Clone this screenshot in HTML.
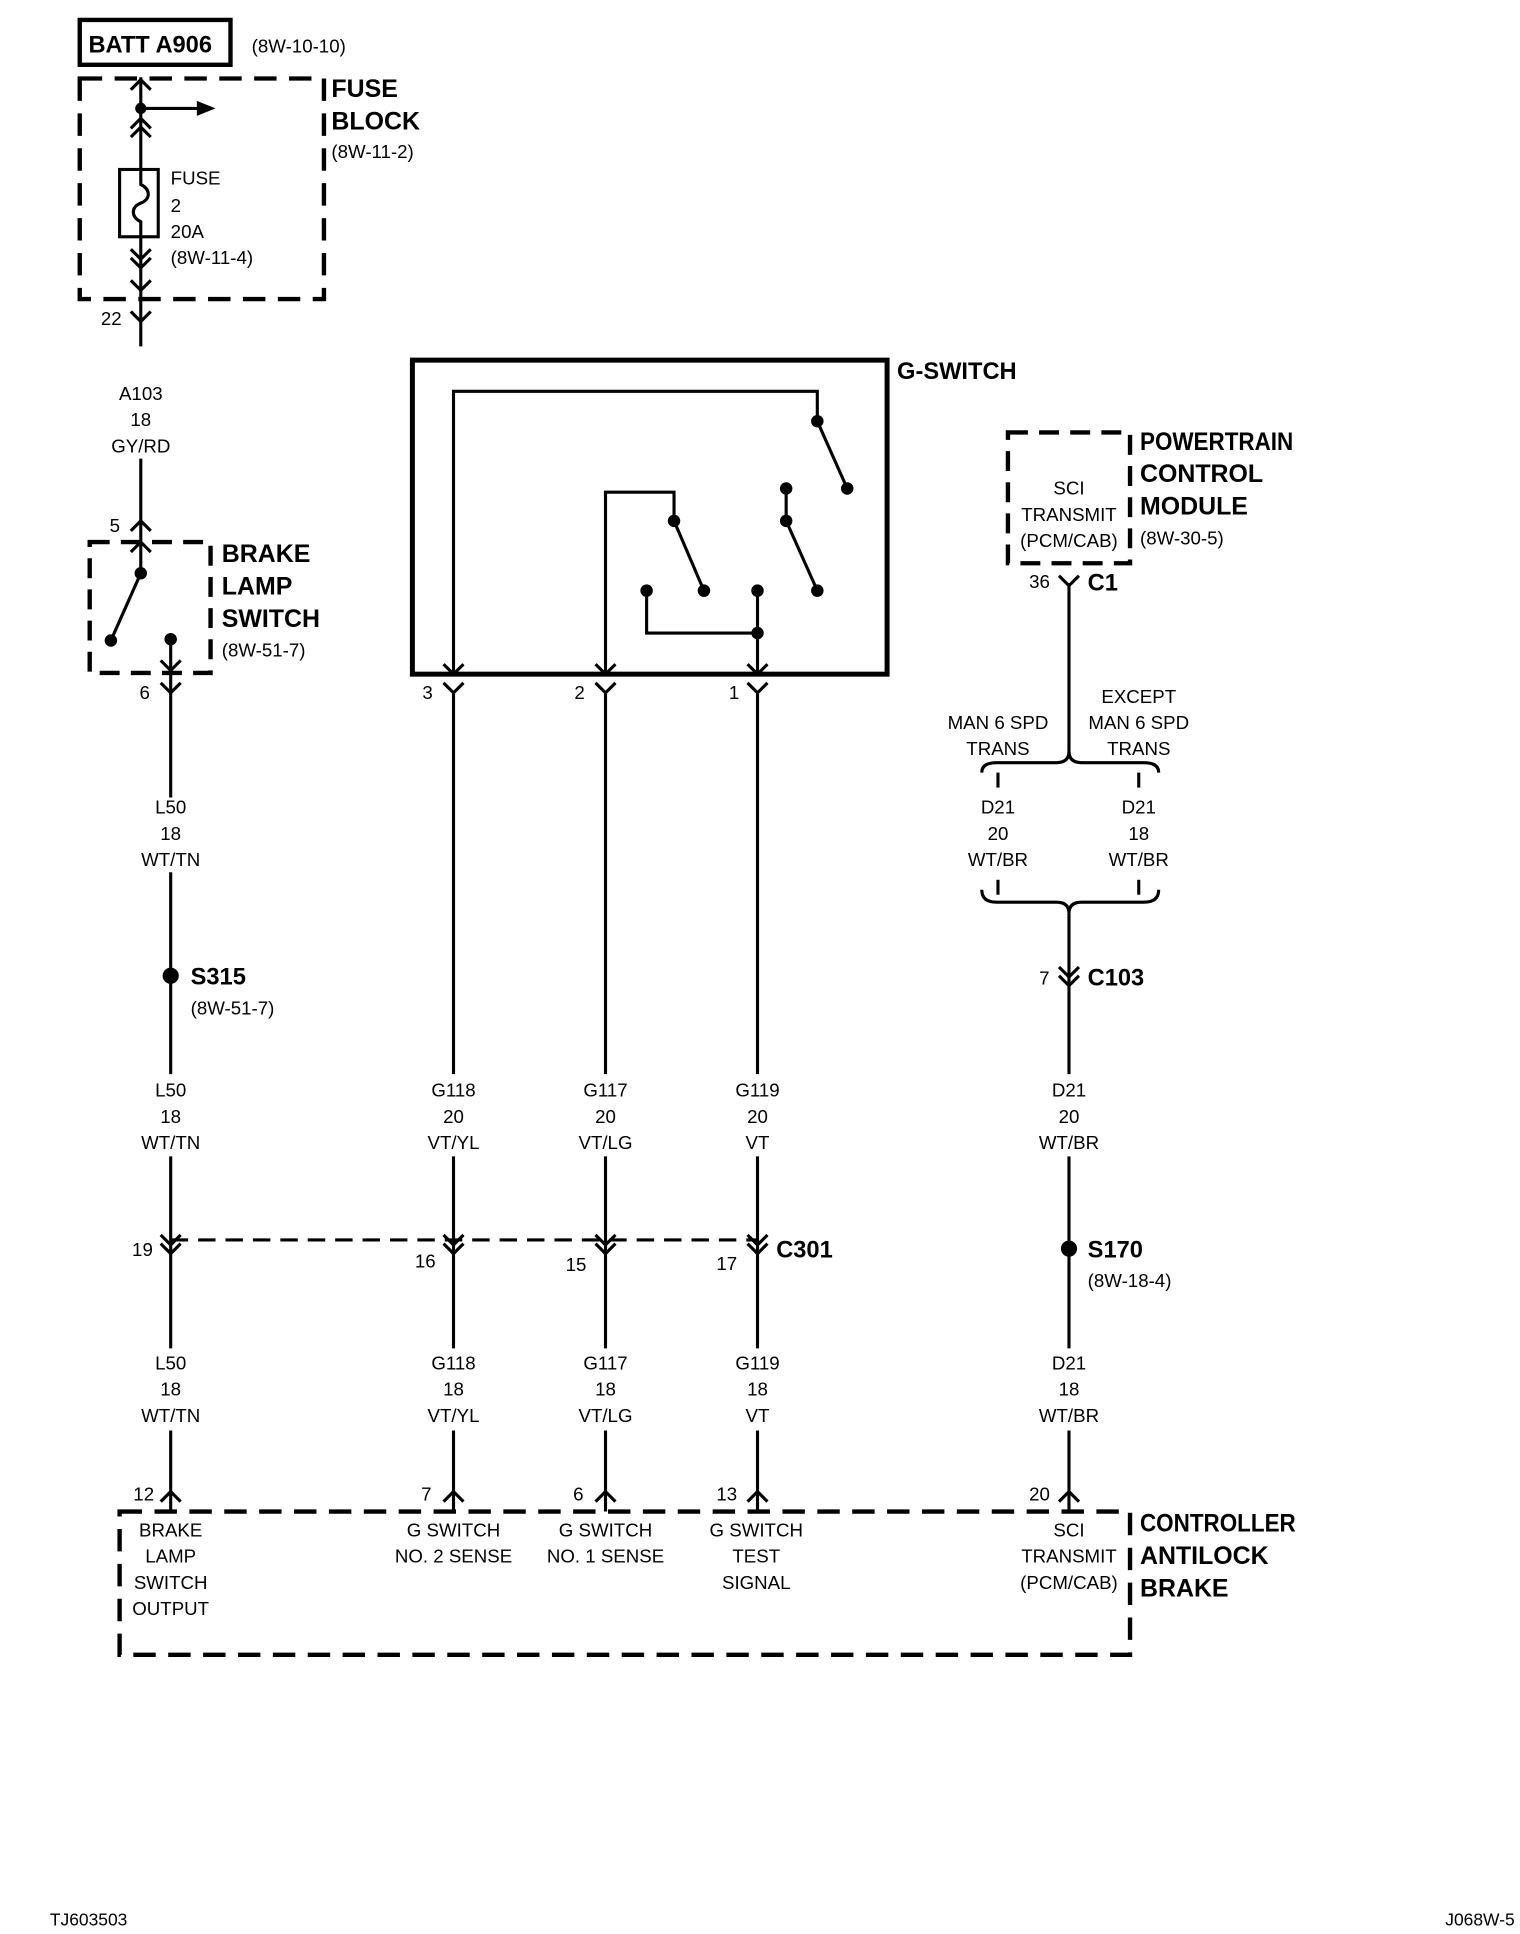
<!DOCTYPE html>
<html><head><meta charset="utf-8"><style>
html,body{margin:0;padding:0;background:#fff;}
svg{display:block;}
text{font-family:"Liberation Sans Narrow","Liberation Sans",sans-serif;fill:#000;}
.s{font-size:15px;}
.b{font-size:20px;font-weight:bold;}
.c{text-anchor:middle;}
</style></head><body>
<svg width="1520" height="1934" viewBox="0 0 1220 1552" preserveAspectRatio="none" xmlns="http://www.w3.org/2000/svg">
<g fill="none" stroke="#000" stroke-width="2.5">
<rect x="64" y="16" width="121" height="36" stroke-width="3.5"/>
<rect x="64" y="63" width="196" height="177" stroke-width="3.5" stroke-dasharray="18 10"/>
<line x1="113" y1="62" x2="113" y2="278"/>
<line x1="113" y1="87" x2="160" y2="87"/>
<polyline points="105,72 113,64 121,72"/>
<polyline points="105,103 113,95 121,103"/>
<polyline points="105,110 113,102 121,110"/>
<rect x="96" y="136" width="31" height="54" fill="#fff"/>
<path d="M113,136 V148 C121,152 121,160 113,163 C105,166 105,174 113,178 V190"/>
<polyline points="105,200 113,208 121,200"/>
<polyline points="105,207 113,215 121,207"/>
<polyline points="105,225 113,233 121,225"/>
<polyline points="105,250 113,258 121,250"/>
<line x1="113" y1="368" x2="113" y2="435"/>
<polyline points="105,426 113,418 121,426"/>
<rect x="72" y="435" width="97" height="105" stroke-width="3.5" stroke-dasharray="16 9"/>
<polyline points="105,443 113,435 121,443"/>
<line x1="113" y1="435" x2="113" y2="460"/>
<line x1="113" y1="460" x2="89" y2="514"/>
<line x1="137" y1="513" x2="137" y2="640"/>
<polyline points="129,530 137,538 145,530"/>
<polyline points="129,548 137,556 145,548"/>
<line x1="137" y1="700" x2="137" y2="862"/>
<line x1="137" y1="928" x2="137" y2="1082"/>
<line x1="137" y1="1148" x2="137" y2="1213"/>
<polyline points="129,1205 137,1197 145,1205"/>
<rect x="331" y="289" width="381" height="252" stroke-width="4"/>
<polyline points="364,541 364,314 656,314 656,338"/>
<line x1="656" y1="338" x2="680" y2="392"/>
<polyline points="486,541 486,395 541,395 541,418"/>
<line x1="541" y1="418" x2="565" y2="474"/>
<polyline points="519,474 519,508 608,508"/>
<line x1="608" y1="474" x2="608" y2="541"/>
<line x1="631" y1="392" x2="631" y2="418"/>
<line x1="631" y1="418" x2="656" y2="474"/>
<polyline points="356,533 364,541 372,533"/>
<polyline points="478,533 486,541 494,533"/>
<polyline points="600,533 608,541 616,533"/>
<polyline points="356,548 364,556 372,548"/>
<polyline points="478,548 486,556 494,548"/>
<polyline points="600,548 608,556 616,548"/>
<line x1="364" y1="556" x2="364" y2="862"/>
<line x1="486" y1="556" x2="486" y2="862"/>
<line x1="608" y1="556" x2="608" y2="862"/>
<line x1="364" y1="928" x2="364" y2="1082"/>
<line x1="486" y1="928" x2="486" y2="1082"/>
<line x1="608" y1="928" x2="608" y2="1082"/>
<line x1="364" y1="1148" x2="364" y2="1213"/>
<line x1="486" y1="1148" x2="486" y2="1213"/>
<line x1="608" y1="1148" x2="608" y2="1213"/>
<polyline points="356,1205 364,1197 372,1205"/>
<polyline points="478,1205 486,1197 494,1205"/>
<polyline points="600,1205 608,1197 616,1205"/>
<line x1="137" y1="995" x2="608" y2="995" stroke-dasharray="14 8"/>
<polyline points="129,991 137,999 145,991"/><polyline points="129,998 137,1006 145,998"/>
<polyline points="356,991 364,999 372,991"/><polyline points="356,998 364,1006 372,998"/>
<polyline points="478,991 486,999 494,991"/><polyline points="478,998 486,1006 494,998"/>
<polyline points="600,991 608,999 616,991"/><polyline points="600,998 608,1006 616,998"/>
<rect x="809" y="347" width="98" height="105" stroke-width="3.5" stroke-dasharray="16 9"/>
<polyline points="850,462 858,470 866,462"/>
<line x1="858" y1="468" x2="858" y2="605"/>
<path d="M788,620 Q788,612 800,612 H848 Q858,612 858,603 Q858,612 868,612 H918 Q930,612 930,620"/>
<line x1="801" y1="620" x2="801" y2="632"/>
<line x1="914" y1="620" x2="914" y2="632"/>
<line x1="801" y1="706" x2="801" y2="718"/>
<line x1="914" y1="706" x2="914" y2="718"/>
<path d="M788,714 Q788,724 800,724 H848 Q858,724 858,733 Q858,724 868,724 H918 Q930,724 930,714"/>
<line x1="858" y1="733" x2="858" y2="862"/>
<polyline points="850,776 858,784 866,776"/><polyline points="850,783 858,791 866,783"/>
<line x1="858" y1="928" x2="858" y2="1082"/>
<line x1="858" y1="1148" x2="858" y2="1213"/>
<polyline points="850,1205 858,1197 866,1205"/>
<rect x="96" y="1213" width="811" height="115" stroke-width="3.5" stroke-dasharray="18 10"/>
</g>
<g fill="#000" stroke="none">
<polygon points="158,81 173,87 158,93"/>
<circle cx="113" cy="87" r="4.5"/>
<circle cx="113" cy="460" r="5"/><circle cx="89" cy="514" r="5"/><circle cx="137" cy="513" r="5"/>
<circle cx="656" cy="338" r="5"/><circle cx="680" cy="392" r="5"/>
<circle cx="541" cy="418" r="5"/><circle cx="565" cy="474" r="5"/>
<circle cx="519" cy="474" r="5"/><circle cx="608" cy="474" r="5"/><circle cx="608" cy="508" r="5"/>
<circle cx="631" cy="392" r="5"/><circle cx="631" cy="418" r="5"/><circle cx="656" cy="474" r="5"/>
<circle cx="137" cy="783" r="6.5"/><circle cx="858" cy="1002" r="6.5"/>
</g>
<text x="71" y="42" style="font-size:19px;font-weight:bold">BATT A906</text>
<text x="202" y="42" class="s">(8W-10-10)</text>
<text x="266" y="78" class="b">FUSE</text>
<text x="266" y="104" class="b">BLOCK</text>
<text x="266" y="127" class="s">(8W-11-2)</text>
<text x="137" y="148" class="s">FUSE</text>
<text x="137" y="170" class="s">2</text>
<text x="137" y="191" class="s">20A</text>
<text x="137" y="212" class="s">(8W-11-4)</text>
<text x="81" y="261" class="s">22</text>
<text x="113" y="321" class="s c">A103</text><text x="113" y="342" class="s c">18</text><text x="113" y="363" class="s c">GY/RD</text>
<text x="88" y="427" class="s">5</text>
<text x="178" y="451" class="b">BRAKE</text><text x="178" y="477" class="b">LAMP</text><text x="178" y="503" class="b">SWITCH</text>
<text x="178" y="527" class="s">(8W-51-7)</text>
<text x="112" y="561" class="s">6</text>
<text x="720" y="304" class="b" style="font-size:19px">G-SWITCH</text>
<text x="339" y="561" class="s">3</text><text x="461" y="561" class="s">2</text><text x="585" y="561" class="s">1</text>
<text x="137" y="653" class="s c">L50</text><text x="137" y="674" class="s c">18</text><text x="137" y="695" class="s c">WT/TN</text>
<text x="137" y="880" class="s c">L50</text><text x="137" y="901" class="s c">18</text><text x="137" y="922" class="s c">WT/TN</text>
<text x="364" y="880" class="s c">G118</text><text x="364" y="901" class="s c">20</text><text x="364" y="922" class="s c">VT/YL</text>
<text x="486" y="880" class="s c">G117</text><text x="486" y="901" class="s c">20</text><text x="486" y="922" class="s c">VT/LG</text>
<text x="608" y="880" class="s c">G119</text><text x="608" y="901" class="s c">20</text><text x="608" y="922" class="s c">VT</text>
<text x="858" y="880" class="s c">D21</text><text x="858" y="901" class="s c">20</text><text x="858" y="922" class="s c">WT/BR</text>
<text x="137" y="1099" class="s c">L50</text><text x="137" y="1120" class="s c">18</text><text x="137" y="1141" class="s c">WT/TN</text>
<text x="364" y="1099" class="s c">G118</text><text x="364" y="1120" class="s c">18</text><text x="364" y="1141" class="s c">VT/YL</text>
<text x="486" y="1099" class="s c">G117</text><text x="486" y="1120" class="s c">18</text><text x="486" y="1141" class="s c">VT/LG</text>
<text x="608" y="1099" class="s c">G119</text><text x="608" y="1120" class="s c">18</text><text x="608" y="1141" class="s c">VT</text>
<text x="858" y="1099" class="s c">D21</text><text x="858" y="1120" class="s c">18</text><text x="858" y="1141" class="s c">WT/BR</text>
<text x="801" y="585" class="s c">MAN 6 SPD</text><text x="801" y="606" class="s c">TRANS</text>
<text x="914" y="564" class="s c">EXCEPT</text><text x="914" y="585" class="s c">MAN 6 SPD</text><text x="914" y="606" class="s c">TRANS</text>
<text x="801" y="653" class="s c">D21</text><text x="801" y="674" class="s c">20</text><text x="801" y="695" class="s c">WT/BR</text>
<text x="914" y="653" class="s c">D21</text><text x="914" y="674" class="s c">18</text><text x="914" y="695" class="s c">WT/BR</text>
<text x="858" y="397" class="s c">SCI</text><text x="858" y="418" class="s c">TRANSMIT</text><text x="858" y="439" class="s c">(PCM/CAB)</text>
<text x="137" y="1233" class="s c">BRAKE</text><text x="137" y="1254" class="s c">LAMP</text><text x="137" y="1275" class="s c">SWITCH</text><text x="137" y="1296" class="s c">OUTPUT</text>
<text x="364" y="1233" class="s c">G SWITCH</text><text x="364" y="1254" class="s c">NO. 2 SENSE</text>
<text x="486" y="1233" class="s c">G SWITCH</text><text x="486" y="1254" class="s c">NO. 1 SENSE</text>
<text x="607" y="1233" class="s c">G SWITCH</text><text x="607" y="1254" class="s c">TEST</text><text x="607" y="1275" class="s c">SIGNAL</text>
<text x="858" y="1233" class="s c">SCI</text><text x="858" y="1254" class="s c">TRANSMIT</text><text x="858" y="1275" class="s c">(PCM/CAB)</text>
<text x="153" y="790" class="b" style="font-size:19px">S315</text>
<text x="153" y="814" class="s">(8W-51-7)</text>
<text x="106" y="1008" class="s">19</text><text x="333" y="1017" class="s">16</text><text x="454" y="1020" class="s">15</text><text x="575" y="1019" class="s">17</text>
<text x="623" y="1009" class="b" style="font-size:19px">C301</text>
<text x="915" y="361" class="b" textLength="123" lengthAdjust="spacingAndGlyphs">POWERTRAIN</text><text x="915" y="387" class="b">CONTROL</text><text x="915" y="413" class="b">MODULE</text>
<text x="915" y="437" class="s">(8W-30-5)</text>
<text x="826" y="472" class="s">36</text>
<text x="873" y="474" class="b" style="font-size:19px">C1</text>
<text x="834" y="790" class="s">7</text>
<text x="873" y="791" class="b" style="font-size:19px">C103</text>
<text x="873" y="1009" class="b" style="font-size:19px">S170</text>
<text x="873" y="1033" class="s">(8W-18-4)</text>
<text x="107" y="1204" class="s">12</text><text x="338" y="1204" class="s">7</text><text x="460" y="1204" class="s">6</text><text x="575" y="1204" class="s">13</text><text x="826" y="1204" class="s">20</text>
<text x="915" y="1229" class="b" textLength="125" lengthAdjust="spacingAndGlyphs">CONTROLLER</text><text x="915" y="1255" class="b">ANTILOCK</text><text x="915" y="1281" class="b">BRAKE</text>
<text x="40" y="1545" style="font-size:14px">TJ603503</text>
<text x="1160" y="1545" style="font-size:14px">J068W-5</text>
</svg>
</body></html>
